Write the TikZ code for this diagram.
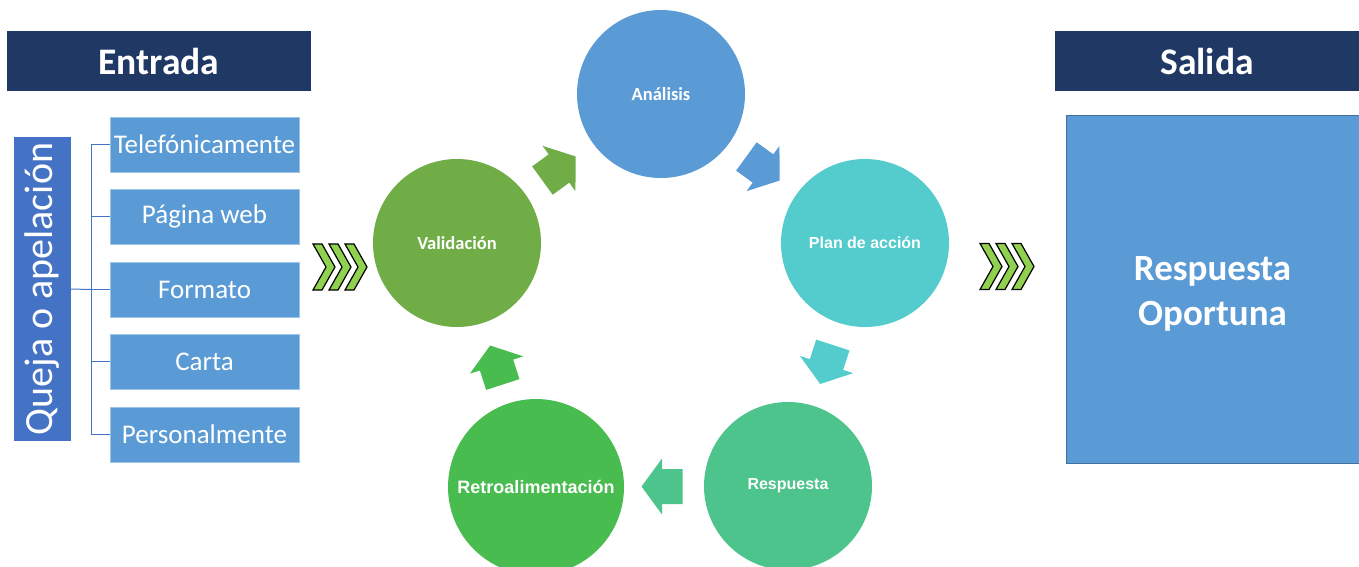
\documentclass[tikz,border=0pt]{standalone}
\usepackage{fontspec}
\setmainfont{Carlito}
\newfontfamily\arialfont{Liberation Sans}
\usetikzlibrary{calc}
\definecolor{navy}{HTML}{203864}
\definecolor{lblue}{HTML}{5B9BD5}
\definecolor{qblue}{HTML}{4472C4}
\definecolor{itemborder}{HTML}{9DC3E6}
\definecolor{outborder}{HTML}{41719C}
\definecolor{cana}{HTML}{5B9BD5}
\definecolor{cplan}{HTML}{54CBCC}
\definecolor{cresp}{HTML}{4DC48C}
\definecolor{cretro}{HTML}{48BC4F}
\definecolor{cval}{HTML}{70AD47}
\definecolor{chev}{HTML}{92D050}
\newcommand\cyclearrow[4]{%
  \begin{scope}[shift={($(#1)!0.5!(#2)$)}, rotate=#3]
    \fill[#4] (-20.5,-17.5) -- (0,-17.5) -- (0,-28) -- (20.5,0) -- (0,28) -- (0,17.5) -- (-20.5,17.5) -- cycle;
  \end{scope}}
\newcommand\chevronshape[2]{%
  \draw[chevronstyle] (#1,#2) -- ++(9,0) -- ++(13,23) -- ++(-13,23) -- ++(-9,0) -- ++(13,-23) -- cycle;}
\begin{document}
\begin{tikzpicture}[x=1pt,y=-1pt,
  header/.style={fill=navy, text=white, font=\fontsize{37.5}{40}\selectfont\bfseries, minimum width=304, minimum height=60, inner sep=0},
  itembox/.style={fill=lblue, draw=itemborder, line width=0.8pt, text=white, font=\fontsize{27}{30}\selectfont, minimum width=189, minimum height=55, inner sep=1},
  bracket/.style={draw=qblue, line width=1pt},
  cyc/.style={circle, minimum size=168, inner sep=0, text=white},
  calfont/.style={font=\fontsize{18.5}{20}\selectfont\bfseries},
  arfont/.style={font=\arialfont\fontsize{16}{18}\selectfont\bfseries},
  chevronstyle/.style={fill=chev, draw=black, line width=1.2pt, line join=miter}
]
\useasboundingbox (0,0) rectangle (1359,566);

% headers
\node[header] (entrada) at (159,61) {Entrada};
\node[header] (salida) at (1207,61) {Salida};

% output box
\node[fill=lblue, draw=outborder, line width=0.8pt, minimum width=293, minimum height=348, inner sep=0,
  label={[name=oporttext, text=white, align=center, yshift=-5pt, font=\fontsize{37}{45}\selectfont\bfseries]center:Respuesta\\Oportuna}]
  (oport) at (1212.5,289) {};

% input
\node[fill=qblue, text=white, rotate=90, minimum width=304, minimum height=57, inner sep=1,
  font=\fontsize{40}{44}\selectfont] (queja) at (42.5,289) {Queja o apelación};
\node[itembox] (tel) at (204.5,144.5) {Telefónicamente};
\node[itembox] (web) at (204.5,216.5) {Página web};
\node[itembox] (form) at (204.5,289.5) {Formato};
\node[itembox] (carta) at (204.5,361.5) {Carta};
\node[itembox] (pers) at (204.5,434.5) {Personalmente};
\coordinate (br) at (91,289.5);
\draw[bracket] (queja.south) -- (br);
\foreach \n in {tel,web,form,carta,pers} \draw[bracket] (br) |- (\n.west);

% chevrons
\foreach \x in {313,329,345} \chevronshape{\x}{244};
\foreach \x in {980,996,1012} \chevronshape{\x}{243.5};

% cycle circles
\node[cyc, fill=cana, calfont] (ana) at (661,94) {Análisis};
\node[cyc, fill=cplan, arfont] (plan) at (865,243) {Plan de acción};
\node[cyc, fill=cresp, arfont] (resp) at (788,486) {Respuesta};
\node[cyc, fill=cretro, minimum size=176, font=\arialfont\fontsize{18}{20}\selectfont\bfseries] (retro) at (536,487) {Retroalimentación};
\node[cyc, fill=cval, calfont] (val) at (457,243) {Validación};

% cycle arrows
\cyclearrow{val}{ana}{36}{cval}
\cyclearrow{ana}{plan}{-36}{cana}
\cyclearrow{plan}{resp}{-108}{cplan}
\cyclearrow{resp}{retro}{180}{cresp}
\cyclearrow{retro}{val}{108}{cretro}
\end{tikzpicture}
\end{document}
